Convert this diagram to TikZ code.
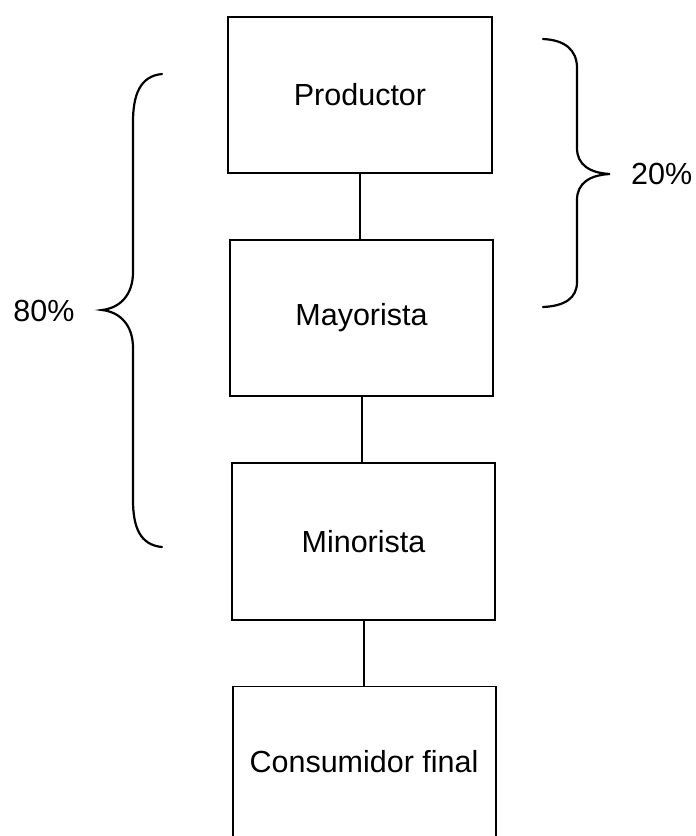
\documentclass[tikz,border=0pt]{standalone}
\usepackage{fontspec}
\setmainfont{Liberation Sans}
\begin{document}
\begin{tikzpicture}[x=1pt,y=-1pt,
  box/.style={draw=black,line width=1.3pt,inner sep=0pt,font=\fontsize{30.5}{35}\selectfont},
  link/.style={draw=black,line width=1.6pt},
  brace/.style={draw=black,line width=2.2pt,line cap=round},
  lbl/.style={font=\fontsize{30.5}{35}\selectfont,inner sep=0pt}]
\useasboundingbox (0,0) rectangle (696,836);
\clip (0,0) rectangle (696,836);
\fill[white] (0,0) rectangle (696,836);
\node[box,minimum width=264pt,minimum height=156pt] (prod) at (360,95) {Productor};
\node[box,minimum width=263pt,minimum height=156pt] (may) at (361.5,318) {Mayorista};
\node[box,minimum width=263pt,minimum height=157pt] (min) at (363.5,541.5) {Minorista};
\node[box,minimum width=263pt,minimum height=170pt,anchor=north] (cons) at (364.5,686) {};
\node[lbl] (constext) at (364,762) {Consumidor final};
\draw[link] (prod.south -| 360,0) -- (may.north -| 360,0);
\draw[link] (may.south -| 362,0) -- (min.north -| 362,0);
\draw[link] (min.south -| 364,0) -- (cons.north -| 364,0);
% left brace
\coordinate (ltop) at (162,74);
\coordinate (ltip) at (102,310);
\coordinate (lbot) at (162,547);
\draw[brace] (ltop) .. controls (140,76) and (133,95) .. (133,122)
  -- (133,272) .. controls (133,295) and (120,308) .. (ltip)
  .. controls (120,312) and (133,325) .. (133,348)
  -- (133,500) .. controls (133,527) and (140,545) .. (lbot);
\node[lbl] (p80) at (44,311) {80\%};
% right brace
\coordinate (rtop) at (543,39);
\coordinate (rtip) at (610,174);
\coordinate (rbot) at (543,307);
\draw[brace] (rtop) .. controls (565,40) and (577,50) .. (577,68)
  -- (577,148) .. controls (577,165) and (590,173) .. (rtip)
  .. controls (590,175) and (577,183) .. (577,200)
  -- (577,282) .. controls (577,298) and (565,306) .. (rbot);
\node[lbl,anchor=west] (p20) at (631,174) {20\%};
\end{tikzpicture}
\end{document}
